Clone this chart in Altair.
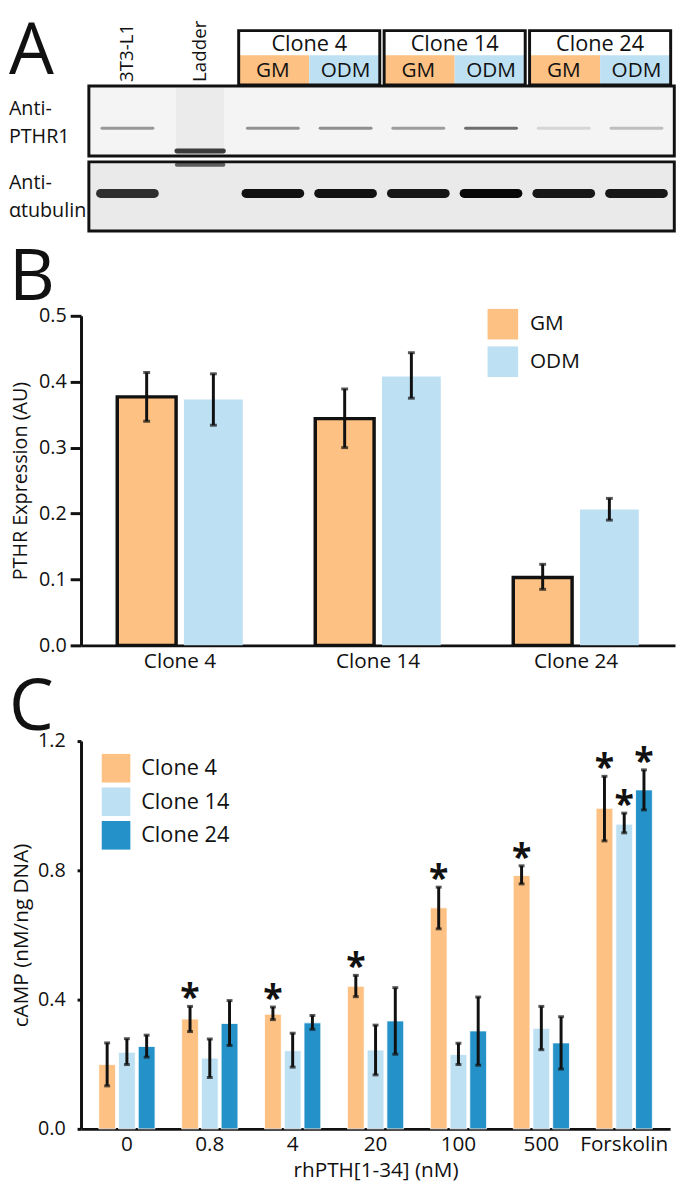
import altair as alt
import pandas as pd

FONT = "Open Sans"
INK = "#111111"
ORANGE = "#FDC183"
LIGHT_BLUE = "#BEE0F3"
DARK_BLUE = "#2491C8"

# ---------------- Panel A : western blot (schematic) ----------------
lane_label_text = ["3T3-L1", "Ladder"]
lane_label_pos = [0, 1]
blot_lanes = [0, 2, 3, 4, 5, 6, 7]
pthr1_band_intensity = [0.38, 0.40, 0.42, 0.36, 0.55, 0.12, 0.22]
tubulin_band_intensity = [0.80, 0.93, 0.93, 0.90, 0.97, 0.90, 0.90]
header_clones = ["Clone 4", "Clone 14", "Clone 24"]
header_first_lane = [2, 4, 6]
conditions = ["GM", "ODM"]
blot_names = ["Anti-\nPTHR1", "Anti-\nαtubulin"]
# vertical layout of the blot figure (schematic units, top = 0)
header_rows = [14, 39, 69]
blot_label_row = [93, 168]
blot_top = [70, 147]
blot_bottom = [141, 217]
blot_fill = ["#F4F4F4", "#EAEAEA"]
band_row = [113, 179]
ladder_band_row = [136, 150]
ladder_band_intensity = [0.75, 0.6]
lane_label_row = 66

# ---------------- Panel B : PTHR expression ----------------
clones_b = ["Clone 4", "Clone 14", "Clone 24"]
gm_mean = [0.377, 0.344, 0.103]
gm_lo = [0.340, 0.300, 0.085]
gm_hi = [0.414, 0.389, 0.123]
odm_mean = [0.373, 0.408, 0.206]
odm_lo = [0.334, 0.375, 0.190]
odm_hi = [0.412, 0.444, 0.223]

# ---------------- Panel C : cAMP response ----------------
doses = ["0", "0.8", "4", "20", "100", "500", "Forskolin"]
clones_c = ["Clone 4", "Clone 14", "Clone 24"]
c4_mean = [0.199, 0.340, 0.355, 0.441, 0.684, 0.784, 0.992]
c4_lo = [0.133, 0.301, 0.338, 0.409, 0.619, 0.758, 0.891]
c4_hi = [0.266, 0.379, 0.377, 0.475, 0.748, 0.814, 1.091]
c14_mean = [0.237, 0.219, 0.242, 0.244, 0.230, 0.311, 0.943]
c14_lo = [0.199, 0.159, 0.191, 0.167, 0.199, 0.245, 0.916]
c14_hi = [0.279, 0.278, 0.296, 0.321, 0.265, 0.379, 0.977]
c24_mean = [0.255, 0.326, 0.328, 0.334, 0.303, 0.266, 1.049]
c24_lo = [0.222, 0.258, 0.308, 0.231, 0.197, 0.185, 0.987]
c24_hi = [0.290, 0.397, 0.351, 0.437, 0.408, 0.347, 1.111]
c4_star = [False, True, True, True, True, True, True]
c14_star = [False, False, False, False, False, False, True]
c24_star = [False, False, False, False, False, False, True]

# =====================================================================
# Panel A
WA, HA = 602, 227
xs = alt.Scale(domain=[-0.638, 7.53], nice=False, zero=False)
ys = alt.Scale(domain=[0, HA], reverse=True, nice=False, zero=False)

blots = pd.DataFrame({"name": blot_names, "top": blot_top, "bottom": blot_bottom,
                      "fill": blot_fill, "x0": [-0.53, -0.53], "x1": [7.52, 7.52],
                      "lx": [-1.63, -1.63], "ly": blot_label_row})
blot_rects = alt.Chart(blots).mark_rect(stroke=INK, strokeWidth=3).encode(
    x=alt.X("x0:Q", scale=xs, axis=None), x2="x1:Q",
    y=alt.Y("top:Q", scale=ys, axis=None), y2="bottom:Q",
    fill=alt.Fill("fill:N", scale=None))
blot_labels = alt.Chart(blots).mark_text(align="left", baseline="middle", fontSize=20,
                                          lineBreak="\n", lineHeight=29, color=INK).encode(
    x=alt.X("lx:Q", scale=xs), y=alt.Y("ly:Q", scale=ys), text="name:N")

ladder = pd.DataFrame({"lane": [1], "top": [blot_top[0] + 2], "bottom": [blot_bottom[0] - 2]})
ladder_smear = alt.Chart(ladder).mark_rect(color="#999999", opacity=0.10).encode(
    x=alt.X("a:Q", scale=xs), x2="b:Q", y=alt.Y("top:Q", scale=ys), y2="bottom:Q"
).transform_calculate(a="datum.lane - 0.33", b="datum.lane + 0.33")

ladder_bands = pd.DataFrame({"lane": [1, 1], "row": ladder_band_row, "inten": ladder_band_intensity,
                             "w": [5, 4]})
ladder_band_marks = alt.Chart(ladder_bands).mark_rule(color="black", strokeCap="round").encode(
    x=alt.X("a:Q", scale=xs), x2="b:Q", y=alt.Y("row:Q", scale=ys),
    opacity=alt.Opacity("inten:Q", scale=None),
    strokeWidth=alt.StrokeWidth("w:Q", scale=None)
).transform_calculate(a="datum.lane - 0.32", b="datum.lane + 0.32")

bands = pd.DataFrame({
    "lane": blot_lanes * 2,
    "inten": pthr1_band_intensity + tubulin_band_intensity,
    "row": [band_row[0]] * len(blot_lanes) + [band_row[1]] * len(blot_lanes),
    "w": [3] * len(blot_lanes) + [9] * len(blot_lanes),
    "half": [0.35] * len(blot_lanes) + [0.37] * len(blot_lanes),
})
band_marks = alt.Chart(bands).mark_rule(color="black", strokeCap="round").encode(
    x=alt.X("a:Q", scale=xs), x2="b:Q", y=alt.Y("row:Q", scale=ys),
    opacity=alt.Opacity("inten:Q", scale=None),
    strokeWidth=alt.StrokeWidth("w:Q", scale=None)
).transform_calculate(a="datum.lane - datum.half", b="datum.lane + datum.half")

h0, h1, h2 = header_rows
rows = []
for clone, a in zip(header_clones, header_first_lane):
    rows.append({"x0": a - 0.47, "x1": a + 1.47, "y0": h0, "y1": h1,
                 "fill": "white", "text": clone, "xc": a + 0.5, "yc": (h0 + h1) / 2 + 1, "fs": 22})
    rows.append({"x0": a - 0.47, "x1": a + 0.5, "y0": h1, "y1": h2,
                 "fill": ORANGE, "text": conditions[0], "xc": a, "yc": (h1 + h2) / 2 + 1, "fs": 21})
    rows.append({"x0": a + 0.5, "x1": a + 1.47, "y0": h1, "y1": h2,
                 "fill": LIGHT_BLUE, "text": conditions[1], "xc": a + 1, "yc": (h1 + h2) / 2 + 1, "fs": 21})
header = pd.DataFrame(rows)
header_cells = alt.Chart(header).mark_rect().encode(
    x=alt.X("x0:Q", scale=xs), x2="x1:Q", y=alt.Y("y0:Q", scale=ys), y2="y1:Q",
    fill=alt.Fill("fill:N", scale=None))
header_text = alt.Chart(header).mark_text(baseline="middle", color=INK).encode(
    x=alt.X("xc:Q", scale=xs), y=alt.Y("yc:Q", scale=ys), text="text:N",
    size=alt.Size("fs:Q", scale=None))
boxes = pd.DataFrame({"x0": [a - 0.47 for a in header_first_lane],
                      "x1": [a + 1.47 for a in header_first_lane],
                      "y0": [h0] * 3, "y1": [h2] * 3})
header_boxes = alt.Chart(boxes).mark_rect(fillOpacity=0, stroke=INK, strokeWidth=3).encode(
    x=alt.X("x0:Q", scale=xs), x2="x1:Q", y=alt.Y("y0:Q", scale=ys), y2="y1:Q")

lane_labels = pd.DataFrame({"lane": lane_label_pos, "text": lane_label_text,
                            "y": [lane_label_row] * 2})
lane_text = alt.Chart(lane_labels).mark_text(angle=270, align="left", baseline="middle",
                                             fontSize=19, color=INK).encode(
    x=alt.X("lane:Q", scale=xs), y=alt.Y("y:Q", scale=ys), text="text:N")

letter_a = alt.Chart(pd.DataFrame({"t": ["A"]})).mark_text(
    align="left", baseline="alphabetic", fontSize=72, color=INK).encode(
    x=alt.value(-73), y=alt.value(58), text="t:N")

panel_a = alt.layer(blot_rects, ladder_smear, ladder_band_marks, band_marks, blot_labels,
                    header_cells, header_text, header_boxes, lane_text, letter_a
                    ).properties(width=WA, height=HA)

# =====================================================================
# Panel B
b_df = pd.DataFrame({
    "clone": clones_b * 2,
    "cond": [conditions[0]] * 3 + [conditions[1]] * 3,
    "mean": gm_mean + odm_mean,
    "lo": gm_lo + odm_lo,
    "hi": gm_hi + odm_hi,
})
xb = alt.X("clone:N", sort=clones_b,
           scale=alt.Scale(paddingInner=0.366, paddingOuter=0.183),
           axis=alt.Axis(title=None, labelAngle=0, ticks=False, domainWidth=3,
                         labelFontSize=21, labelPadding=5))
xob = alt.XOffset("cond:N", sort=conditions,
                  scale=alt.Scale(domain=conditions, paddingInner=0.118, paddingOuter=0))
yb_scale = alt.Scale(domain=[0, 0.5], nice=False)
yb = alt.Y("mean:Q", scale=yb_scale,
           axis=alt.Axis(values=[0, 0.1, 0.2, 0.3, 0.4, 0.5], format=".1f",
                         tickSize=11, tickWidth=3, domainWidth=3, labelFontSize=20,
                         labelPadding=4, title="PTHR Expression (AU)", titleFontSize=20,
                         titlePadding=8))
b_base = alt.Chart(b_df)
b_bars = b_base.mark_bar().encode(
    x=xb, xOffset=xob, y=yb,
    color=alt.Color("cond:N", sort=conditions,
                    scale=alt.Scale(domain=conditions, range=[ORANGE, LIGHT_BLUE]),
                    legend=alt.Legend(title=None, orient="none", legendX=412, legendY=-7,
                                      symbolType="square", symbolSize=961,
                                      symbolStrokeWidth=0, labelFontSize=21,
                                      rowPadding=7, labelOffset=12)))
b_outline = b_base.transform_filter(alt.datum.cond == conditions[0]).mark_bar(
    fillOpacity=0, stroke=INK, strokeWidth=3.5).encode(x=xb, xOffset=xob, y=yb)
b_err = b_base.mark_rule(color=INK, strokeWidth=3).encode(
    x=xb, xOffset=xob, y=alt.Y("lo:Q", scale=yb_scale), y2="hi:Q")
b_cap_lo = b_base.mark_tick(color=INK, thickness=3, size=7).encode(
    x=xb, xOffset=xob, y=alt.Y("lo:Q", scale=yb_scale))
b_cap_hi = b_base.mark_tick(color=INK, thickness=3, size=7).encode(
    x=xb, xOffset=xob, y=alt.Y("hi:Q", scale=yb_scale))
letter_b = alt.Chart(pd.DataFrame({"t": ["B"]})).mark_text(
    align="left", baseline="alphabetic", fontSize=72, color=INK).encode(
    x=alt.value(-73), y=alt.value(-16), text="t:N")

panel_b = alt.layer(b_bars, b_outline, b_err, b_cap_lo, b_cap_hi, letter_b
                    ).properties(width=602, height=334)

# =====================================================================
# Panel C
c_df = pd.DataFrame({
    "dose": doses * 3,
    "clone": [clones_c[0]] * 7 + [clones_c[1]] * 7 + [clones_c[2]] * 7,
    "mean": c4_mean + c14_mean + c24_mean,
    "lo": c4_lo + c14_lo + c24_lo,
    "hi": c4_hi + c14_hi + c24_hi,
    "star": c4_star + c14_star + c24_star,
})
xc = alt.X("dose:N", sort=doses,
           scale=alt.Scale(paddingInner=0.321, paddingOuter=0.214),
           axis=alt.Axis(title="rhPTH[1-34] (nM)", labelAngle=0, ticks=False, domainWidth=3,
                         labelFontSize=21, labelPadding=5, titleFontSize=21,
                         titlePadding=5))
xoc = alt.XOffset("clone:N", sort=clones_c,
                  scale=alt.Scale(domain=clones_c, paddingInner=0.15, paddingOuter=0))
yc_scale = alt.Scale(domain=[0, 1.2], nice=False)
yc = alt.Y("mean:Q", scale=yc_scale,
           axis=alt.Axis(values=[0, 0.4, 0.8, 1.2], format=".1f", tickSize=4,
                         tickWidth=3, domainWidth=3, labelFontSize=20, labelPadding=12,
                         title="cAMP (nM/ng DNA)", titleFontSize=21, titlePadding=6))
c_base = alt.Chart(c_df)
c_bars = c_base.mark_bar(stroke="white", strokeWidth=0.8).encode(
    x=xc, xOffset=xoc, y=yc,
    color=alt.Color("clone:N", sort=clones_c,
                    scale=alt.Scale(domain=clones_c, range=[ORANGE, LIGHT_BLUE, DARK_BLUE]),
                    legend=alt.Legend(title=None, orient="none", legendX=21, legendY=13,
                                      symbolType="square", symbolSize=841,
                                      symbolStrokeWidth=0, labelFontSize=22,
                                      rowPadding=5, labelOffset=11)))
c_err = c_base.mark_rule(color=INK, strokeWidth=3).encode(
    x=xc, xOffset=xoc, y=alt.Y("lo:Q", scale=yc_scale), y2="hi:Q")
c_cap_lo = c_base.mark_tick(color=INK, thickness=3, size=6).encode(
    x=xc, xOffset=xoc, y=alt.Y("lo:Q", scale=yc_scale))
c_cap_hi = c_base.mark_tick(color=INK, thickness=3, size=6).encode(
    x=xc, xOffset=xoc, y=alt.Y("hi:Q", scale=yc_scale))
c_star = c_base.transform_filter(alt.datum.star).mark_text(
    text="*", fontSize=36, fontWeight="bold", baseline="alphabetic", dy=3, color=INK).encode(
    x=xc, xOffset=xoc, y=alt.Y("hi:Q", scale=yc_scale))
letter_c = alt.Chart(pd.DataFrame({"t": ["C"]})).mark_text(
    align="left", baseline="alphabetic", fontSize=72, color=INK).encode(
    x=alt.value(-73), y=alt.value(-11), text="t:N")

panel_c = alt.layer(c_bars, c_err, c_cap_lo, c_cap_hi, c_star, letter_c
                    ).properties(width=597, height=393)

chart = alt.vconcat(panel_a, panel_b, panel_c, spacing=0).resolve_scale(
    color="independent", xOffset="independent"
).resolve_legend(color="independent").properties(
    padding=0
).configure(font=FONT).configure_view(stroke="transparent", fill="white").configure_axis(
    grid=False, labelColor=INK, titleColor=INK, domainColor=INK, tickColor=INK,
    labelFont=FONT, titleFont=FONT, titleFontWeight="normal"
).configure_legend(labelFont=FONT, labelColor=INK).configure_text(font=FONT)

chart.save("out.html", embed_options={"renderer": "svg", "actions": False})
